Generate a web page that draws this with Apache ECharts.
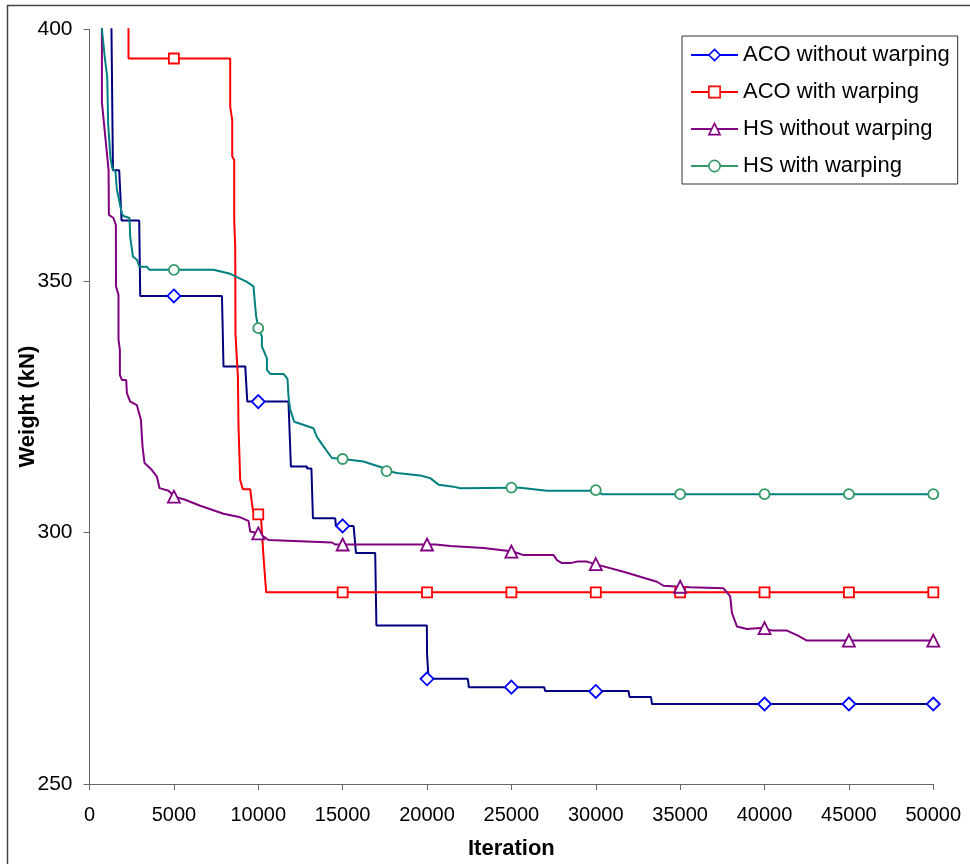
<!DOCTYPE html>
<html>
<head>
<meta charset="utf-8">
<title>Weight vs Iteration</title>
<script src="https://cdn.jsdelivr.net/npm/echarts@6/dist/echarts.min.js"></script>
<style>
  html, body { margin: 0; padding: 0; background: #fff; }
  #chart { width: 970px; height: 864px; }
</style>
</head>
<body>
<div id="chart"></div>
<script>
// ---- Data -------------------------------------------------------------
const seriesNames = ['ACO without warping', 'ACO with warping', 'HS without warping', 'HS with warping'];

const xTicks = [0, 5000, 10000, 15000, 20000, 25000, 30000, 35000, 40000, 45000, 50000];
const yTicks = [250, 300, 350, 400];

// Best weight found so far, as [iteration, weight (kN)] breakpoints
const acoPlainTrace = [
  [1270, 410], [1390, 372], [1760, 372], [1900, 362], [2945, 362], [3005, 347],
  [7850, 347], [7940, 333], [9230, 333], [9350, 326], [11790, 326], [11935, 313.1],
  [12880, 313.1], [12900, 312.7], [13150, 312.7], [13240, 302.8], [14560, 302.8],
  [14600, 301.3], [15650, 301.3], [15790, 295.9], [16930, 295.9], [17000, 281.5],
  [19990, 281.5], [20000, 276], [20090, 270.9], [22420, 270.9], [22480, 269.25],
  [26945, 269.25], [27000, 268.5], [31940, 268.5], [32000, 267.3], [33270, 267.3],
  [33330, 265.9], [50000, 265.9]
];
const acoWarpTrace = [
  [2310, 410], [2310, 394.2], [8338, 394.2], [8338, 384.6], [8456, 382], [8456, 374.7],
  [8575, 374], [8575, 362.1], [8634, 356.8], [8650, 339.6], [8735, 334.3], [8794, 331],
  [8830, 321], [8930, 310.4], [9090, 308.6], [9523, 308.6], [9624, 305.8], [9683, 304.5],
  [9750, 303.8], [10150, 303.6], [10311, 295.2], [10412, 290.6], [10471, 288.1],
  [50000, 288.1]
];
const hsPlainTrace = [
  [735, 410], [735, 385.5], [1130, 372], [1150, 363.1], [1420, 362.5], [1564, 361.1],
  [1570, 348.9], [1718, 347.2], [1718, 338.3], [1800, 336.3], [1800, 331.3], [1920, 330.3],
  [2175, 330.3], [2216, 327.7], [2412, 326], [2809, 325.3], [3046, 322.4], [3141, 317.1],
  [3259, 313.8], [3698, 312.4], [3994, 311.1], [4148, 308.8], [4682, 308.3], [5037, 307.1],
  [5671, 306.5], [6560, 305.3], [7941, 303.7], [8930, 303], [9422, 302.3], [9523, 300.2],
  [10074, 299.8], [10607, 298.5], [14364, 298], [14560, 297.6], [20500, 297.6],
  [21375, 297.3], [23350, 296.9], [25090, 296.2], [25720, 295.5], [27500, 295.5],
  [27700, 294.5], [27995, 293.9], [28490, 293.9], [28883, 294.2], [29476, 294.2],
  [29968, 293.7], [31645, 292.2], [33624, 290.2], [34015, 289.4], [34963, 289.2],
  [35597, 289.1], [37570, 288.9], [37967, 287.3], [38068, 284], [38365, 281.3],
  [38958, 280.8], [39746, 281], [40440, 280.5], [41328, 280.5], [41920, 279.6],
  [42513, 278.5], [50000, 278.5]
];
const hsWarpTrace = [
  [735, 410], [735, 400], [812, 397.5], [912, 394.2], [1049, 390.6], [1108, 381],
  [1245, 374.4], [1345, 372.4], [1540, 371.7], [1624, 368.1], [1920, 363.4], [2015, 362.9],
  [2370, 362.5], [2412, 358.8], [2572, 354.8], [2809, 354.2], [2963, 352.8], [3401, 352.8],
  [3556, 352.2], [7348, 352.2], [8338, 351.4], [9327, 349.8], [9718, 348.9], [9819, 344.9],
  [9878, 342.9], [10015, 340.6], [10216, 338.9], [10216, 337], [10513, 334.6],
  [10513, 332.3], [10708, 331.5], [11496, 331.5], [11733, 330.5], [11793, 327],
  [11893, 324.4], [12130, 322], [13274, 320.7], [13475, 319], [13867, 317.1],
  [14364, 314.8], [15016, 314.6], [16237, 314.1], [17422, 312.8], [17660, 312.2],
  [18216, 311.8], [19597, 311.3], [20190, 310.8], [20682, 309.5], [21570, 309.1],
  [21967, 308.8], [25031, 308.9], [25520, 308.9], [27105, 308.3], [29926, 308.3],
  [30365, 307.6], [50000, 307.6]
];

// Sampled checkpoints shown with markers
const acoPlainMarks = [
  [5000, 347], [10000, 326], [15000, 301.3], [20000, 270.9], [25000, 269.25],
  [30000, 268.4], [40000, 265.9], [45000, 265.9], [50000, 265.9]
];
const acoWarpMarks = [
  [5000, 394.2], [10000, 303.6], [15000, 288.1], [20000, 288.1], [25000, 288.1],
  [30000, 288.1], [35000, 288.1], [40000, 288.1], [45000, 288.1], [50000, 288.1]
];
const hsPlainMarks = [
  [5000, 307.1], [10000, 299.8], [15000, 297.6], [20000, 297.6], [25000, 296.2],
  [30000, 293.7], [35000, 289.2], [40000, 281], [45000, 278.5], [50000, 278.5]
];
const hsWarpMarks = [
  [5000, 352.2], [10000, 340.6], [15000, 314.6], [17600, 312.2], [25000, 308.9],
  [30000, 308.4], [35000, 307.6], [40000, 307.6], [45000, 307.6], [50000, 307.6]
];

// ---- Styling ------------------------------------------------------------
const FONT = "'Liberation Sans', Arial, Helvetica, sans-serif";
const traces = [acoPlainTrace, acoWarpTrace, hsPlainTrace, hsWarpTrace];
const marks = [acoPlainMarks, acoWarpMarks, hsPlainMarks, hsWarpMarks];
const traceColors = ['#000080', '#FF0000', '#800080', '#008080'];
const markColors = ['#0000FF', '#FF0000', '#800080', '#339966'];
const markSymbols = ['diamond', 'rect', 'triangle', 'circle'];
const markSizes = [13, 10, 12, 10];

const series = [];
// Marker series come first so the legend takes its icon from them
seriesNames.forEach((name, i) => {
  series.push({
    name: name,
    type: 'line',
    data: marks[i],
    z: 4,
    symbol: markSymbols[i],
    symbolSize: markSizes[i],
    showSymbol: true,
    showAllSymbol: true,
    itemStyle: { color: '#FFFFFF', borderColor: markColors[i], borderWidth: 1.8 },
    lineStyle: { color: markColors[i], width: 2, opacity: 0 },
    emphasis: { disabled: true },
    silent: true,
    animation: false
  });
});
seriesNames.forEach((name, i) => {
  series.push({
    name: name,
    type: 'line',
    data: traces[i],
    z: 3,
    symbol: 'none',
    showSymbol: false,
    clip: true,
    lineStyle: { color: traceColors[i], width: 2 },
    emphasis: { disabled: true },
    silent: true,
    animation: false
  });
});

const chart = echarts.init(document.getElementById('chart'), null, { renderer: 'canvas' });
chart.setOption({
  animation: false,
  backgroundColor: '#FFFFFF',
  textStyle: { fontFamily: FONT },
  grid: { left: 89.5, right: 36.7, top: 29.3, bottom: 80, containLabel: false, outerBoundsMode: 'none' },
  xAxis: {
    type: 'value',
    min: xTicks[0],
    max: xTicks[xTicks.length - 1],
    interval: xTicks[1] - xTicks[0],
    name: 'Iteration',
    nameLocation: 'middle',
    nameGap: 54,
    nameMoveOverlap: false,
    nameTextStyle: { fontFamily: FONT, fontSize: 22, fontWeight: 'bold', color: '#000' },
    axisLine: { show: true, lineStyle: { color: '#666', width: 1 } },
    axisTick: { show: true, length: 6, lineStyle: { color: '#666', width: 1 } },
    axisLabel: { fontFamily: FONT, fontSize: 20, color: '#000', margin: 21, formatter: v => String(v) },
    splitLine: { show: false }
  },
  yAxis: {
    type: 'value',
    min: yTicks[0],
    max: yTicks[yTicks.length - 1],
    interval: yTicks[1] - yTicks[0],
    name: 'Weight (kN)',
    nameLocation: 'middle',
    nameRotate: 90,
    nameGap: 51,
    nameMoveOverlap: false,
    nameTextStyle: { fontFamily: FONT, fontSize: 22, fontWeight: 'bold', color: '#000' },
    axisLine: { show: true, lineStyle: { color: '#666', width: 1 } },
    axisTick: { show: true, length: 6, lineStyle: { color: '#666', width: 1 } },
    axisLabel: { fontFamily: FONT, fontSize: 21, color: '#000', margin: 17, formatter: v => String(v) },
    splitLine: { show: false }
  },
  legend: {
    orient: 'vertical',
    left: 682,
    top: 36,
    itemWidth: 47,
    itemHeight: 14,
    itemGap: 15,
    padding: [8, 8, 7, 8],
    borderColor: '#333',
    borderWidth: 1,
    backgroundColor: '#FFFFFF',
    selectedMode: false,
    textStyle: { fontFamily: FONT, fontSize: 22, color: '#000' },
    data: seriesNames.map((name, i) => ({
      name: name,
      itemStyle: { color: '#FFFFFF', borderColor: markColors[i], borderWidth: 1.6 },
      lineStyle: { color: markColors[i], width: 2, opacity: 1 }
    }))
  },
  graphic: [
    { type: 'line', silent: true, shape: { x1: 7, y1: 5.5, x2: 970, y2: 5.5 }, style: { stroke: '#444', lineWidth: 1.5 } },
    { type: 'line', silent: true, shape: { x1: 7.5, y1: 5, x2: 7.5, y2: 864 }, style: { stroke: '#444', lineWidth: 1.5 } }
  ],
  series: series
});
</script>
</body>
</html>
